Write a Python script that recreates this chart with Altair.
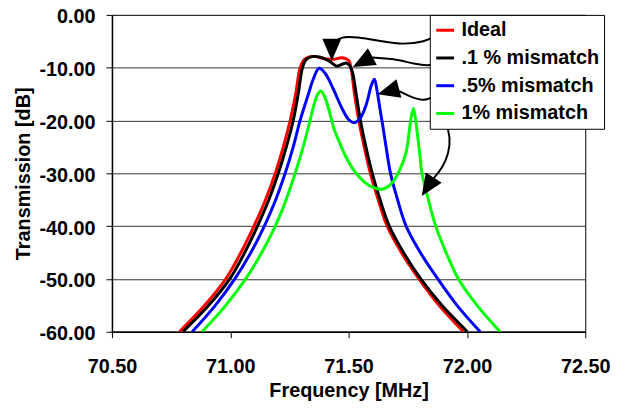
import altair as alt
import pandas as pd

# ---------------- data ----------------
series_names = ["Ideal", ".1 % mismatch", ".5% mismatch", "1% mismatch"]
series_colors = ["#FF0000", "#000000", "#0000FF", "#00FF00"]

ideal_f = [70.785, 70.892, 70.981, 71.045, 71.100, 71.149, 71.190, 71.224, 71.253, 71.276, 71.295,
           71.310, 71.330, 71.360, 71.400, 71.440, 71.470, 71.500, 71.510, 71.525, 71.543,
           71.566, 71.592, 71.625, 71.663, 71.723, 71.797, 71.882, 71.985]
ideal_db = [-60, -55, -50, -45, -40, -35, -30, -25, -20, -15, -10,
            -8.6, -8.0, -7.9, -8.3, -8.4, -8.1, -8.6, -10, -15, -20,
            -25, -30, -35, -40, -45, -50, -55, -60]

p1_f = [70.800, 70.909, 70.998, 71.061, 71.115, 71.163, 71.203, 71.237, 71.266, 71.287, 71.305,
        71.320, 71.345, 71.380, 71.420, 71.450, 71.475, 71.490, 71.505, 71.517, 71.532,
        71.550, 71.573, 71.600, 71.633, 71.672, 71.732, 71.805, 71.894, 72.002]
p1_db = [-60, -55, -50, -45, -40, -35, -30, -25, -20, -15, -10,
         -8.5, -7.9, -8.0, -8.8, -9.7, -9.3, -9.1, -9.6, -11, -15,
         -20, -25, -30, -35, -40, -45, -50, -55, -60]

p5_f = [70.839, 70.937, 71.019, 71.087, 71.144, 71.192, 71.232, 71.266, 71.295, 71.330,
        71.352, 71.375, 71.400, 71.435, 71.470, 71.500, 71.525, 71.550, 71.575, 71.597,
        71.609, 71.620, 71.635, 71.646, 71.660, 71.677, 71.707, 71.743, 71.803, 71.877,
        71.958, 72.056]
p5_db = [-60, -55, -50, -45, -40, -35, -30, -25, -20, -15,
         -12, -10.1, -11, -14, -17.5, -19.8, -20.4, -19.5, -16.9, -13.2,
         -12.2, -14.3, -18.5, -21.4, -25.5, -30, -35, -40, -45, -50,
         -55, -60]

p10_f = [70.881, 70.981, 71.065, 71.133, 71.190, 71.236, 71.274, 71.308, 71.337, 71.355,
         71.370, 71.383, 71.400, 71.420, 71.440, 71.462, 71.490, 71.525, 71.563, 71.600,
         71.642, 71.680, 71.715, 71.743, 71.755, 71.765, 71.774, 71.782, 71.792, 71.801,
         71.810, 71.837, 71.868, 71.912, 71.964, 72.043, 72.140]
p10_db = [-60, -55, -50, -45, -40, -35, -30, -25, -20, -16.8,
          -15.0, -14.4, -15.6, -18.5, -21.8, -24.2, -27, -29.6, -31.5, -32.6,
          -33.0, -32.0, -29.5, -26.0, -22.5, -19.3, -17.7, -19.5, -23, -26.5,
          -30, -35, -40, -45, -50, -55, -60]

# annotation arrows (curved leaders from the legend to the curves)
arrow_id = [1] * 8 + [2] * 5 + [3] * 5 + [4] * 6
arrow_f = [71.889, 71.860, 71.826, 71.730, 71.646, 71.533, 71.462, 71.437,
           71.897, 71.856, 71.785, 71.688, 71.600,
           71.889, 71.856, 71.814, 71.755, 71.713,
           71.877, 71.910, 71.931, 71.923, 71.897, 71.860]
arrow_db = [-2.625, -4.125, -5.06, -5.625, -5.06, -4.125, -4.125, -5.44,
            -8.25, -9.75, -9.375, -8.25, -8.06,
            -13.5, -15.75, -16.31, -15.375, -14.44,
            -18.56, -20.06, -23.25, -26.25, -28.875, -30.94]

head_f = [71.429, 71.565, 71.674, 71.838]
head_db = [-6.3, -8.75, -14.4, -32.3]
head_angle = [180, 242, 255, 213]

x_ticks = [70.5, 71.0, 71.5, 72.0, 72.5]
y_ticks = [-60, -50, -40, -30, -20, -10, 0]

# ---------------- tables ----------------
rows = []
for name, fs, dbs in zip(series_names, [ideal_f, p1_f, p5_f, p10_f],
                         [ideal_db, p1_db, p5_db, p10_db]):
    for f, d in zip(fs, dbs):
        rows.append({"series": name, "f": f, "db": d})
curves = pd.DataFrame(rows)

arrows = pd.DataFrame({"arrow": arrow_id, "f": arrow_f, "db": arrow_db,
                       "seq": list(range(len(arrow_f)))})
heads = pd.DataFrame({"f": head_f, "db": head_db, "angle": head_angle})

FONT = "Liberation Sans"

x_enc = alt.X("f:Q",
              scale=alt.Scale(domain=[70.5, 72.5], nice=False, zero=False),
              axis=alt.Axis(values=x_ticks, format=".2f", grid=False, labelFlush=False,
                            title="Frequency [MHz]", tickSize=6,
                            labelPadding=19, titlePadding=4))
y_enc = alt.Y("db:Q",
              scale=alt.Scale(domain=[-60, 0], nice=False, zero=False),
              axis=alt.Axis(values=y_ticks, grid=True, labelOffset=2, labelFlush=False,
                            labelExpr="datum.value < 0 ? '-' + format(-datum.value, '.2f') : format(datum.value, '.2f')",
                            title="Transmission [dB]", tickSize=6,
                            labelPadding=11, titlePadding=6))

lines = alt.Chart(curves).mark_line(strokeWidth=3, interpolate="catmull-rom", clip=True).encode(
    x=x_enc,
    y=y_enc,
    color=alt.Color("series:N",
                    scale=alt.Scale(domain=series_names, range=series_colors),
                    sort=series_names,
                    legend=alt.Legend(title=None, orient="none", legendX=321, legendY=0,
                                      symbolType="stroke", symbolStrokeWidth=3,
                                      symbolSize=324, labelFont=FONT, labelFontSize=20,
                                      labelFontWeight="bold", labelColor="black",
                                      labelOffset=6, rowPadding=7, padding=5,
                                      fillColor="white", strokeColor="black",
                                      labelLimit=300)),
)

arrow_lines = alt.Chart(arrows).mark_line(strokeWidth=2, interpolate="basis",
                                          color="black").encode(
    x="f:Q", y="db:Q", detail="arrow:N", order="seq:Q")

arrow_heads = alt.Chart(heads).mark_point(shape="M0,-1L0.75,0.75L-0.75,0.75Z", filled=True,
                                          size=650, color="black", opacity=1,
                                          strokeWidth=0).encode(
    x="f:Q", y="db:Q", angle=alt.Angle("angle:Q", scale=None))

chart = alt.layer(lines, arrow_lines, arrow_heads).properties(
    width=478, height=320,
    autosize=alt.AutoSizeParams(type="none"),
    padding={"left": 105, "top": 5, "right": 25, "bottom": 72},
    background="white",
).configure_view(
    stroke="black", strokeWidth=1
).configure_axis(
    labelFont=FONT, labelFontSize=20, labelFontWeight="bold", labelColor="black",
    titleFont=FONT, titleFontSize=20, titleFontWeight="bold", titleColor="black",
    domainColor="black", tickColor="black", gridColor="#333333", gridWidth=1,
    domainWidth=1.5, tickWidth=1
)

chart.save("out.html", embed_options={"renderer": "svg", "actions": False})
